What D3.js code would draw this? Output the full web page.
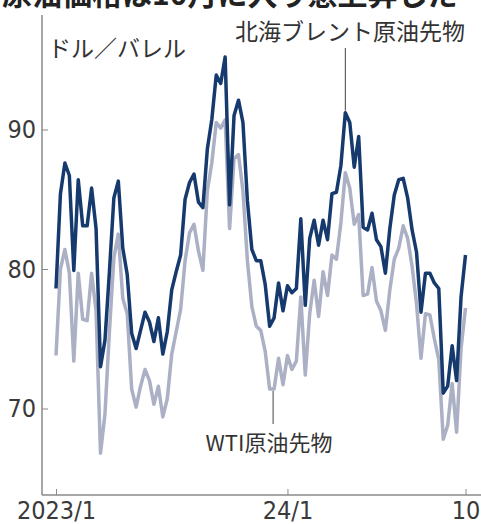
<!DOCTYPE html>
<html>
<head>
<meta charset="utf-8">
<script src="https://cdn.jsdelivr.net/npm/d3@7"></script>
<style>
  html, body { margin: 0; padding: 0; background: #fff; }
  #chart { width: 481px; height: 524px; overflow: hidden; }
</style>
</head>
<body>
<div id="chart"></div>
<script>
// Weekly closes (Fridays), plus the latest day
const weeks = d3.timeFriday.range(new Date(2023, 0, 6), new Date(2024, 9, 5))
  .map(d3.timeFormat('%Y-%m-%d'))
  .concat(['2024-10-07']);

const brent = [
  78.6, 85.4, 87.6, 86.7, 79.9, 86.4, 83.1, 83.1, 85.8, 82.9,
  73.0, 74.9, 79.8, 85.1, 86.3, 81.5, 79.6, 75.4, 74.3, 75.6,
  76.9, 76.2, 74.8, 76.5, 73.9, 75.5, 78.5, 79.8, 81.0, 85.0,
  86.2, 86.8, 84.8, 84.4, 88.6, 90.7, 93.9, 93.3, 95.2, 84.6,
  91.0, 92.1, 90.5, 84.9, 81.4, 80.6, 80.6, 78.9, 75.9, 76.5,
  79.0, 77.0, 78.8, 78.3, 78.6, 83.6, 77.4, 82.2, 83.5, 81.7,
  83.5, 82.1, 85.4, 85.5, 87.4, 91.2, 90.5, 87.3, 89.5, 83.0,
  82.8, 84.0, 82.1, 81.6, 79.7, 82.9, 85.3, 86.4, 86.5, 85.1,
  82.8, 81.2, 76.9, 79.7, 79.7, 79.0, 78.6, 71.1, 71.6, 74.5,
  72.0, 78.0, 81.0
];

const wti = [
  73.8, 80.0, 81.4, 79.7, 73.4, 79.7, 76.4, 76.3, 79.7, 77.0,
  66.8, 69.6, 75.5, 80.8, 82.5, 77.9, 76.8, 71.4, 70.1, 71.6,
  72.8, 72.0, 70.3, 71.6, 69.4, 70.7, 73.9, 75.5, 77.1, 80.6,
  82.6, 83.2, 81.3, 79.9, 85.6, 87.6, 90.5, 90.1, 90.7, 82.9,
  87.9, 88.2, 85.6, 80.6, 77.3, 75.9, 75.6, 74.1, 71.4, 71.4,
  73.6, 71.7, 73.8, 72.8, 73.4, 78.0, 72.4, 76.8, 79.2, 76.6,
  79.8, 78.1, 81.0, 80.7, 83.3, 86.9, 85.8, 83.2, 83.9, 78.1,
  78.2, 80.1, 77.7, 77.0, 75.6, 78.5, 80.7, 81.5, 83.1, 82.2,
  80.2, 77.5, 73.6, 76.8, 76.7, 75.0, 73.5, 67.8, 68.8, 71.8,
  68.3, 74.3, 77.2
];

const yTicks = [70, 80, 90];
const xTicks = ['2023-01-06', '2024-01-05', '2024-10-07'];
const xTickLabels = ['2023/1', '24/1', '10'];

const title = '原油価格は10月に入り急上昇した';
const unitLabel = 'ドル／バレル';
const brentLabel = '北海ブレント原油先物';
const wtiLabel = 'WTI原油先物';

const W = 481, H = 524;
const axisX = 42, axisTop = 15, axisBottom = 495;
const numFont = '"Liberation Sans Narrow", "DejaVu Sans Condensed", sans-serif';
const jpFont = '"Noto Sans CJK JP", sans-serif';

const svg = d3.select('#chart')
  .append('svg')
  .attr('width', W)
  .attr('height', H);

const x = d3.scalePoint()
  .domain(weeks)
  .range([56, 465.5]);

const y = d3.scaleLinear()
  .domain([70, 90])
  .range([408.5, 129.5]);

// Headline, cut off by the top edge
svg.append('text')
  .attr('x', 2)
  .attr('y', 5)
  .style('font-family', jpFont)
  .style('font-size', '30px')
  .style('font-weight', 'bold')
  .style('fill', '#222')
  .text(title);

// Y axis
svg.append('line')
  .attr('x1', axisX).attr('x2', axisX)
  .attr('y1', axisTop).attr('y2', axisBottom)
  .attr('stroke', '#8a8a8a')
  .attr('stroke-width', 1.5);

const yAxis = svg.append('g')
  .attr('transform', `translate(${axisX},0)`)
  .call(d3.axisLeft(y).tickValues(yTicks).tickSizeInner(-6).tickSizeOuter(0).tickPadding(6));
yAxis.select('.domain').remove();
yAxis.selectAll('line').attr('stroke', '#8a8a8a');
yAxis.selectAll('text')
  .style('font-family', numFont)
  .style('font-size', '25px')
  .style('fill', '#3a3a3a');

// X axis
svg.append('line')
  .attr('x1', axisX).attr('x2', W)
  .attr('y1', axisBottom).attr('y2', axisBottom)
  .attr('stroke', '#8a8a8a')
  .attr('stroke-width', 1.5);

const xAxis = svg.append('g')
  .attr('transform', `translate(0,${axisBottom})`)
  .call(d3.axisBottom(x)
    .tickValues(xTicks)
    .tickFormat((d, i) => xTickLabels[i])
    .tickSizeInner(-6).tickSizeOuter(0).tickPadding(6));
xAxis.select('.domain').remove();
xAxis.selectAll('line').attr('stroke', '#8a8a8a');
xAxis.selectAll('text')
  .style('font-family', numFont)
  .style('font-size', '25px')
  .style('fill', '#3a3a3a');

// Lines
const line = values => d3.line()
  .x((d, i) => x(weeks[i]))
  .y(d => y(d))
  (values);

svg.append('path')
  .attr('d', line(wti))
  .attr('fill', 'none')
  .attr('stroke', '#abb0c5')
  .attr('stroke-width', 3.5)
  .attr('stroke-linejoin', 'round');

svg.append('path')
  .attr('d', line(brent))
  .attr('fill', 'none')
  .attr('stroke', '#163a6e')
  .attr('stroke-width', 3.5)
  .attr('stroke-linejoin', 'round');

// Labels and leader lines
svg.append('text')
  .attr('x', 48)
  .attr('y', 57)
  .style('font-family', jpFont)
  .style('font-size', '23px')
  .style('fill', '#333')
  .text(unitLabel);

const brentPeak = 65;
svg.append('line')
  .attr('x1', x(weeks[brentPeak])).attr('x2', x(weeks[brentPeak]))
  .attr('y1', 48).attr('y2', y(brent[brentPeak]) - 2)
  .attr('stroke', '#444')
  .attr('stroke-width', 1);

svg.append('text')
  .attr('x', 350)
  .attr('y', 40)
  .attr('text-anchor', 'middle')
  .style('font-family', jpFont)
  .style('font-size', '23px')
  .style('fill', '#333')
  .text(brentLabel);

const wtiLow = 49;
svg.append('line')
  .attr('x1', x(weeks[wtiLow]) - 1).attr('x2', x(weeks[wtiLow]) - 1)
  .attr('y1', y(wti[wtiLow]) + 2).attr('y2', 424)
  .attr('stroke', '#444')
  .attr('stroke-width', 1);

svg.append('text')
  .attr('x', 269)
  .attr('y', 451)
  .attr('text-anchor', 'middle')
  .style('font-family', jpFont)
  .style('font-size', '22px')
  .style('fill', '#333')
  .text(wtiLabel);
</script>
</body>
</html>
